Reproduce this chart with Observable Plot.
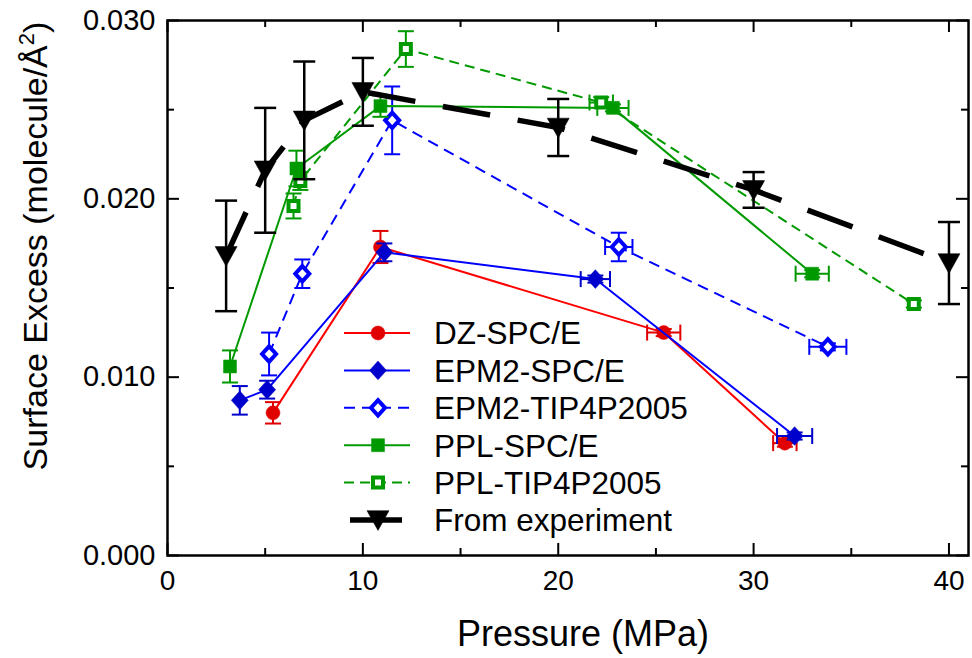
<!DOCTYPE html>
<html><head><meta charset="utf-8">
<script src="https://cdn.jsdelivr.net/npm/d3@7"></script>
<script src="https://cdn.jsdelivr.net/npm/@observablehq/plot@0.6"></script>
<style>
body{margin:0;background:#fff}
#chart{width:972px;height:658px}
</style>
</head><body><div id="chart"></div>
<script>
// ---------- data ----------
const seriesNames = ["DZ-SPC/E","EPM2-SPC/E","EPM2-TIP4P2005","PPL-SPC/E","PPL-TIP4P2005","From experiment"];

const dzP    = [5.4, 10.9, 25.4, 31.6];
const dzS    = [0.0080, 0.0173, 0.0125, 0.0063];
const dzYErr = [0.0006, 0.0009, 0.0002, 0.0002];
const dzXErr = [0, 0, 0.85, 0.6];

const epmSpcP    = [3.7, 5.1, 11.1, 21.9, 32.1];
const epmSpcS    = [0.0087, 0.0093, 0.0170, 0.0155, 0.0067];
const epmSpcYErr = [0.0008, 0.0005, 0.0005, 0.0002, 0.0002];
const epmSpcXErr = [0, 0, 0, 0.75, 0.9];

const epmTipP    = [5.2, 6.9, 11.5, 23.1, 33.8];
const epmTipS    = [0.0113, 0.0158, 0.0244, 0.0173, 0.0117];
const epmTipYErr = [0.0012, 0.0008, 0.0019, 0.0008, 0.0002];
const epmTipXErr = [0, 0, 0, 0.7, 0.95];

const pplSpcP    = [3.2, 6.6, 10.9, 22.8, 33.0];
const pplSpcS    = [0.0106, 0.0217, 0.0252, 0.0251, 0.0158];
const pplSpcYErr = [0.0009, 0.0010, 0.0006, 0.0002, 0.0002];
const pplSpcXErr = [0, 0, 0, 0.8, 0.85];

const pplTipP    = [6.45, 6.8, 12.2, 22.2, 38.2];
const pplTipS    = [0.0196, 0.0210, 0.0284, 0.0254, 0.0141];
const pplTipYErr = [0.0007, 0.0005, 0.0010, 0.0003, 0.0002];
const pplTipXErr = [0, 0, 0, 0.6, 0];

const expP    = [3, 5, 7, 10, 20, 30, 40];
const expS    = [0.0168, 0.0216, 0.0244, 0.0260, 0.0240, 0.0205, 0.0164];
const expYErr = [0.0031, 0.0035, 0.0033, 0.0019, 0.0016, 0.0010, 0.0023];
const expXErr = [0, 0, 0, 0, 0, 0, 0];

const xTickLabels = [0, 10, 20, 30, 40];
const xMinorTicks = [5, 15, 25, 35];
const yTickLabels = [0, 0.010, 0.020, 0.030];
const yMinorTicks = [0.005, 0.015, 0.025];

// ---------- symbols ----------
const R = s => Math.sqrt(s / Math.PI);
const symDiamond = {draw(c, s){const r=R(s); c.moveTo(0,-r*1.1); c.lineTo(r,0); c.lineTo(0,r*1.1); c.lineTo(-r,0); c.closePath();}};
const symSquare  = {draw(c, s){const r=R(s); c.moveTo(-r,-r); c.lineTo(r,-r); c.lineTo(r,r); c.lineTo(-r,r); c.closePath();}};
const symTriDown = {draw(c, s){const r=R(s); c.moveTo(-r,-r*0.85); c.lineTo(r,-r*0.85); c.lineTo(0,r*0.95); c.closePath();}};
const symCircle  = {draw(c, s){const r=R(s); c.moveTo(r,0); c.arc(0,0,r,0,2*Math.PI); c.closePath();}};
const symHCap    = {draw(c, s){const r=R(s); c.moveTo(-r,0); c.lineTo(r,0);}};
const symVCap    = {draw(c, s){const r=R(s); c.moveTo(0,-r); c.lineTo(0,r);}};

// ---------- styles ----------
const styles = [
  {line:"#ff0000", mark:"#e00000", sym:symCircle,  r:7,   open:false, sw:0.5, dash:null,    lw:2,   ew:2,   cap:8},
  {line:"#0000ff", mark:"#0000cc", sym:symDiamond, r:8.5, open:false, sw:0.5, dash:null,    lw:2,   ew:2,   cap:8},
  {line:"#0000ff", mark:"#0000ff", sym:symDiamond, r:7,   open:true,  sw:4,   dash:"11,7",  lw:2,   ew:2,   cap:8},
  {line:"#009a00", mark:"#009a00", sym:symSquare,  r:6.5, open:false, sw:0.5, dash:null,    lw:2,   ew:2,   cap:8},
  {line:"#009a00", mark:"#009a00", sym:symSquare,  r:5,   open:true,  sw:4,   dash:"10,6",  lw:2,   ew:2,   cap:8},
  {line:"#000000", mark:"#000000", sym:symTriDown, r:11,  open:false, sw:0.5, dash:"48,28", lw:5.5, ew:2.5, cap:11},
];

const mk = (P,S,YE,XE) => P.map((p,i)=>({x:p, y:S[i], ye:YE[i], xe:XE[i]}));
const seriesData = [
  mk(dzP, dzS, dzYErr, dzXErr),
  mk(epmSpcP, epmSpcS, epmSpcYErr, epmSpcXErr),
  mk(epmTipP, epmTipS, epmTipYErr, epmTipXErr),
  mk(pplSpcP, pplSpcS, pplSpcYErr, pplSpcXErr),
  mk(pplTipP, pplTipS, pplTipYErr, pplTipXErr),
  mk(expP, expS, expYErr, expXErr),
];

const FH = 658 - 20 - 103, FW = 972 - 167 - 4;
const marks = [];
seriesData.forEach((rows, k) => {
  const st = styles[k];
  marks.push(Plot.line(rows, {x:"x", y:"y", stroke:st.line, strokeWidth:st.lw, strokeDasharray:st.dash, strokeLinecap:"butt"}));
  const ye = rows.filter(d=>d.ye>0), xe = rows.filter(d=>d.xe>0);
  marks.push(Plot.ruleX(ye, {x:"x", y1:d=>d.y-d.ye, y2:d=>d.y+d.ye, stroke:st.mark, strokeWidth:st.ew}));
  marks.push(Plot.dot(ye, {x:"x", y:d=>d.y+d.ye, symbol:symHCap, r:st.cap, stroke:st.mark, strokeWidth:st.ew, fill:"none"}));
  marks.push(Plot.dot(ye, {x:"x", y:d=>d.y-d.ye, symbol:symHCap, r:st.cap, stroke:st.mark, strokeWidth:st.ew, fill:"none"}));
  marks.push(Plot.ruleY(xe, {y:"y", x1:d=>d.x-d.xe, x2:d=>d.x+d.xe, stroke:st.mark, strokeWidth:st.ew}));
  marks.push(Plot.dot(xe, {y:"y", x:d=>d.x+d.xe, symbol:symVCap, r:st.cap, stroke:st.mark, strokeWidth:st.ew, fill:"none"}));
  marks.push(Plot.dot(xe, {y:"y", x:d=>d.x-d.xe, symbol:symVCap, r:st.cap, stroke:st.mark, strokeWidth:st.ew, fill:"none"}));
  marks.push(Plot.dot(rows, {x:"x", y:"y", symbol:st.sym, r:st.r,
    fill: st.open ? "white" : st.mark, stroke: st.mark, strokeWidth: st.sw}));
});

const plot = Plot.plot({
  width: 972, height: 658,
  marginLeft: 167, marginRight: 4, marginTop: 20, marginBottom: 103,
  x: {domain: [0, 41]},
  y: {domain: [0, 0.030]},
  style: {fontFamily: "'Liberation Sans', Arial, Helvetica, sans-serif", color: "black", background: "white"},
  marks: [
    Plot.tickX(xTickLabels, {insetTop: FH-12, stroke:"black", strokeWidth:2}),
    Plot.tickX(xTickLabels, {insetBottom: FH-12, stroke:"black", strokeWidth:2}),
    Plot.tickX(xMinorTicks, {insetTop: FH-7, stroke:"black", strokeWidth:2}),
    Plot.tickX(xMinorTicks, {insetBottom: FH-7, stroke:"black", strokeWidth:2}),
    Plot.tickY(yTickLabels, {insetRight: FW-12, stroke:"black", strokeWidth:2}),
    Plot.tickY(yTickLabels, {insetLeft: FW-12, stroke:"black", strokeWidth:2}),
    Plot.tickY(yMinorTicks, {insetRight: FW-7, stroke:"black", strokeWidth:2}),
    Plot.tickY(yMinorTicks, {insetLeft: FW-7, stroke:"black", strokeWidth:2}),
    ...marks,
    Plot.frame({stroke:"black", strokeWidth:2.5}),
    Plot.axisX(xTickLabels, {tickSize:0, tickPadding:15, fontSize:28, label:null, tickFormat:d=>String(d)}),
    Plot.axisY(yTickLabels, {tickSize:0, tickPadding:12, fontSize:29, label:null, tickFormat:d3.format(".3f")}),
  ]
});
document.getElementById("chart").appendChild(plot);

// ---------- titles & legend ----------
const svg = d3.select(plot);
const ff = "'Liberation Sans', Arial, Helvetica, sans-serif";
svg.append("text").attr("x", 583).attr("y", 646).attr("text-anchor","middle")
  .attr("font-family", ff).attr("font-size", 36).attr("fill","black").text("Pressure (MPa)");
const yl = svg.append("text").attr("transform","translate(47,246) rotate(-90)").attr("text-anchor","middle")
  .attr("font-family", ff).attr("font-size", 34).attr("fill","black");
yl.append("tspan").text("Surface Excess (molecule/Å");
yl.append("tspan").attr("font-size", 22).attr("dy", -13).text("2");
yl.append("tspan").attr("dy", 13).text(")");

const lg = svg.append("g").attr("text-anchor", "start");
seriesNames.forEach((name, i) => {
  const st = styles[i];
  const cy = 333 + 37.4 * i;
  const isExp = i === 5;
  lg.append("line").attr("x1", isExp ? 350 : 344).attr("x2", isExp ? 402 : 410).attr("y1", cy).attr("y2", cy)
    .attr("stroke", st.line).attr("stroke-width", st.lw).attr("stroke-dasharray", isExp ? null : st.dash);
  const size = Math.PI * st.r * st.r;
  lg.append("path").attr("d", d3.symbol(st.sym, size)()).attr("transform", `translate(378,${cy})`)
    .attr("fill", st.open ? "white" : st.mark).attr("stroke", st.mark).attr("stroke-width", st.sw);
  lg.append("text").attr("x", 434).attr("y", cy + 11.3).attr("text-anchor", "start").attr("font-family", ff).attr("font-size", 31.5)
    .attr("fill","black").text(name);
});
</script>
</body></html>
